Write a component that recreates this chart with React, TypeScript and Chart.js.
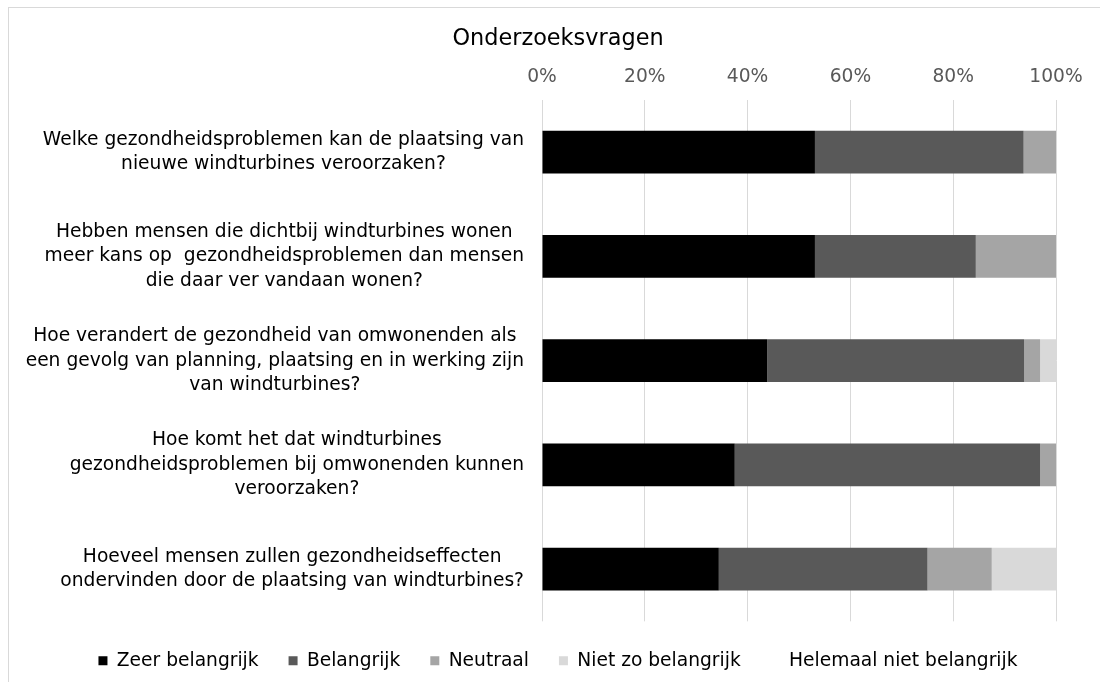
import React, { useEffect, useRef } from 'react';
import { Chart, registerables } from 'chart.js';

Chart.register(...registerables);

const FONT = '"DejaVu Sans", Verdana, sans-serif';

const titleText = 'Onderzoeksvragen';

const categoryLines: string[][] = [
  ['Welke gezondheidsproblemen kan de plaatsing van', 'nieuwe windturbines veroorzaken?'],
  ['Hebben mensen die dichtbij windturbines wonen', 'meer kans op  gezondheidsproblemen dan mensen', 'die daar ver vandaan wonen?'],
  ['Hoe verandert de gezondheid van omwonenden als', 'een gevolg van planning, plaatsing en in werking zijn', 'van windturbines?'],
  ['Hoe komt het dat windturbines', 'gezondheidsproblemen bij omwonenden kunnen', 'veroorzaken?'],
  ['Hoeveel mensen zullen gezondheidseffecten', 'ondervinden door de plaatsing van windturbines?'],
];

const seriesNames = ['Zeer belangrijk', 'Belangrijk', 'Neutraal', 'Niet zo belangrijk', 'Helemaal niet belangrijk'];

const zeerBelangrijk = [53.1, 53.1, 43.8, 37.5, 34.4];
const belangrijk = [40.6, 31.3, 50.0, 59.4, 40.6];
const neutraal = [6.3, 15.6, 3.1, 3.1, 12.5];
const nietZoBelangrijk = [0, 0, 3.1, 0, 12.5];
const helemaalNietBelangrijk = [0, 0, 0, 0, 0];

const seriesColors = ['#000000', '#595959', '#a5a5a5', '#d9d9d9', '#ffffff'];

const xTickValues = [0, 20, 40, 60, 80, 100];

const yLabelsPlugin = {
  id: 'yLabelsCentered',
  afterDraw(chart: any) {
    const ctx = chart.ctx;
    const yScale = chart.scales.y;
    const right = chart.chartArea.left - 18;
    ctx.save();
    ctx.font = `18.67px ${FONT}`;
    ctx.fillStyle = '#000000';
    ctx.textAlign = 'center';
    ctx.textBaseline = 'middle';
    const lineH = 24.5;
    categoryLines.forEach((lines, i) => {
      const cy = yScale.getPixelForTick(i);
      let widest = 0;
      lines.forEach((ln) => {
        widest = Math.max(widest, ctx.measureText(ln).width);
      });
      const cx = right - widest / 2;
      lines.forEach((ln, j) => {
        ctx.fillText(ln, cx, cy + (j - (lines.length - 1) / 2) * lineH);
      });
    });
    ctx.restore();
  },
};

export default function App() {
  const canvasRef = useRef<HTMLCanvasElement | null>(null);

  useEffect(() => {
    const canvas = canvasRef.current;
    if (!canvas) return;
    const values = [zeerBelangrijk, belangrijk, neutraal, nietZoBelangrijk, helemaalNietBelangrijk];
    const chart = new Chart(canvas, {
      type: 'bar',
      data: {
        labels: categoryLines.map((l) => l.join(' ')),
        datasets: seriesNames.map((name, i) => ({
          label: name,
          data: values[i],
          backgroundColor: seriesColors[i],
          borderWidth: 0,
          barPercentage: 0.41,
          categoryPercentage: 1,
        })),
      },
      options: {
        indexAxis: 'y',
        animation: false,
        responsive: false,
        devicePixelRatio: 1,
        layout: { padding: { top: 0, left: 60, right: 44, bottom: 2 } },
        plugins: {
          title: {
            display: true,
            text: titleText,
            color: '#000000',
            font: { family: FONT, size: 22.4, weight: 'normal' },
            padding: { top: 25.6, bottom: 0 },
          },
          legend: {
            display: true,
            position: 'bottom',
            labels: {
              color: '#000000',
              font: { family: FONT, size: 18.67 },
              boxWidth: 9,
              boxHeight: 9,
              padding: 30,
            },
          },
          tooltip: { enabled: false },
        },
        scales: {
          x: {
            position: 'top',
            stacked: true,
            min: 0,
            max: 100,
            afterBuildTicks: (scale: any) => {
              scale.ticks = xTickValues.map((v) => ({ value: v }));
            },
            ticks: {
              color: '#595959',
              font: { family: FONT, size: 18.67 },
              padding: 12,
              callback: (v: any) => `${v}%`,
            },
            grid: { color: '#d9d9d9', lineWidth: 1, drawTicks: false },
            border: { display: false },
            afterFit: (scale: any) => {
              scale.height = 47.5;
            },
          },
          y: {
            stacked: true,
            ticks: { display: false },
            grid: { display: false },
            border: { display: false },
            afterFit: (scale: any) => {
              scale.width = 482;
            },
          },
        },
      },
      plugins: [yLabelsPlugin],
    });
    return () => chart.destroy();
  }, []);

  return (
    <div style={{ position: 'fixed', left: 0, top: 0, width: 1100, height: 682, overflow: 'hidden', background: '#ffffff' }}>
      <div
        style={{
          position: 'absolute',
          left: 8,
          top: 7,
          width: 1110,
          height: 700,
          border: '1px solid #d9d9d9',
          boxSizing: 'border-box',
        }}
      />
      <canvas
        ref={canvasRef}
        width={1100}
        height={682}
        style={{ position: 'absolute', left: 0, top: 0, width: 1100, height: 682 }}
      />
    </div>
  );
}
